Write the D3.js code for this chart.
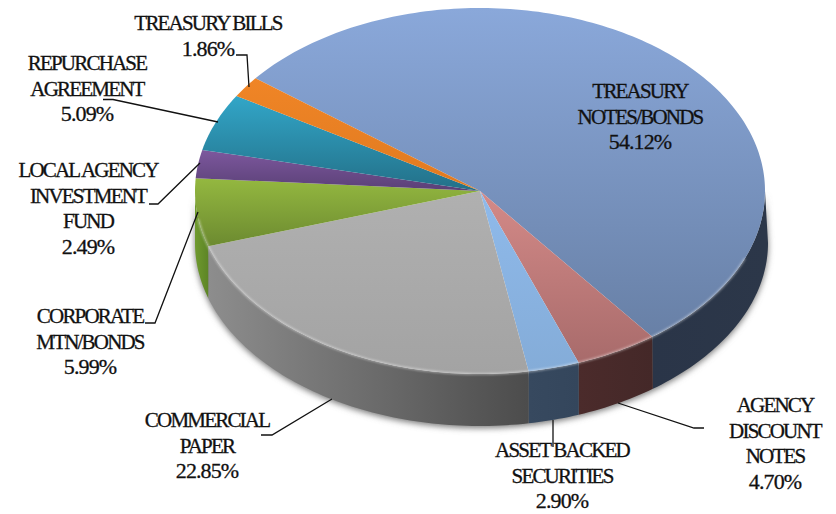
<!DOCTYPE html>
<html>
<head>
<meta charset="utf-8">
<script src="https://cdn.jsdelivr.net/npm/d3@7/dist/d3.min.js"></script>
<style>
html,body{margin:0;padding:0;background:#fff}
svg{display:block}
text{font-family:"Liberation Serif",serif;font-size:21px;letter-spacing:-1.8px;fill:#111;text-anchor:middle;stroke:#111;stroke-width:.3px}
tspan.share{font-size:22px;letter-spacing:-.9px}
</style>
</head>
<body>
<svg id="chart" width="836" height="514"></svg>
<script>
// Portfolio allocation, clockwise from the top-left seam
const categories = [
  "TREASURY NOTES/BONDS", "AGENCY DISCOUNT NOTES", "ASSET BACKED SECURITIES",
  "COMMERCIAL PAPER", "CORPORATE MTN/BONDS", "LOCAL AGENCY INVESTMENT FUND",
  "REPURCHASE AGREEMENT", "TREASURY BILLS"
];
const shares = [54.12, 4.70, 2.90, 22.85, 5.99, 2.49, 5.09, 1.86];
const labelLines = [
  ["TREASURY", "NOTES/BONDS"], ["AGENCY", "DISCOUNT", "NOTES"], ["ASSET BACKED", "SECURITIES"],
  ["COMMERCIAL", "PAPER"], ["CORPORATE", "MTN/BONDS"], ["LOCAL AGENCY", "INVESTMENT", "FUND"],
  ["REPURCHASE", "AGREEMENT"], ["TREASURY BILLS"]
];

// Colours per slice: top face light, top face dark, wall left, wall right
const faceLight = ["#8aa8da", "#d48a88", "#8fbaeb", "#b0b0b0", "#94b840", "#7d589e", "#32a6c8", "#f08526"];
const faceDark  = ["#6880a6", "#a86b6b", "#84acd8", "#a3a3a3", "#6c8a30", "#5a4076", "#237088", "#e07a20"];
const wallLeft  = ["#2a3548", "#4b2b2b", "#37495f", "#8d8d8d", "#6f9a2e", "#4a3560", "#1d5568", "#a05a18"];
const wallRight = ["#2c3749", "#442828", "#34465c", "#4c4c4c", "#5d8526", "#4a3560", "#1d5568", "#a05a18"];

// Label block centre, first baseline and leader polyline for each slice
const labelX = [640, 775, 562, 207, 90, 88, 87, 208];
const labelY = [98, 412, 457, 427, 323, 177, 70, 30];
const leaders = [
  null,
  [[618, 403], [694, 428], [704, 428]],
  [[553, 420], [553, 447]],
  [[332, 399], [272, 435], [261, 435]],
  [[198, 212], [155, 323], [145, 323]],
  [[200, 163], [158, 204], [149, 204]],
  [[218, 122], [113, 99.5], [103, 99.5]],
  [[249, 87], [247, 55], [236, 55]]
];

const cx = 480, cy = 191, rx = 285, ry = 183, depth = 52, bulge = 3, lineGap = 25.7;
const startDeg = -52;
const TAU = Math.PI * 2;

const svg = d3.select("#chart");
const defs = svg.append("defs");

const xPos = d3.scaleLinear().domain([-1, 1]).range([cx - rx, cx + rx]);
const yPos = d3.scaleLinear().domain([1, -1]).range([cy - ry, cy + ry]);
// A point on the rim; the lower rim swells slightly on the far right
const project = (a, lower = false) => {
  const s = Math.sin(a);
  return [
    xPos(s) + (lower ? bulge * Math.pow(Math.max(0, s), 3) : 0),
    yPos(Math.cos(a)) + (lower ? depth : 0)
  ];
};

const pie = d3.pie().sort(null)
  .startAngle(startDeg * Math.PI / 180)
  .endAngle(startDeg * Math.PI / 180 + TAU);
const arcs = pie(shares);

const sweep = (a0, a1, lower = false) => {
  const n = Math.max(2, Math.ceil((a1 - a0) / 0.02));
  return d3.range(n + 1).map(i => project(a0 + (a1 - a0) * i / n, lower));
};
const poly = d3.line();

// Soft shadow and glow filters
const blur = defs.append("filter").attr("id", "soft")
  .attr("x", "-10%").attr("y", "-10%").attr("width", "120%").attr("height", "120%");
blur.append("feGaussianBlur").attr("stdDeviation", 3);
const thin = defs.append("filter").attr("id", "rim")
  .attr("x", "-10%").attr("y", "-10%").attr("width", "120%").attr("height", "120%");
thin.append("feGaussianBlur").attr("stdDeviation", 0.8);

arcs.forEach((d, i) => {
  const face = defs.append("linearGradient").attr("id", `face${i}`)
    .attr("x1", 0).attr("y1", 0).attr("x2", 0).attr("y2", 1);
  face.append("stop").attr("offset", 0).attr("stop-color", faceLight[i]);
  face.append("stop").attr("offset", 1).attr("stop-color", faceDark[i]);
  const wall = defs.append("linearGradient").attr("id", `wall${i}`)
    .attr("x1", 0).attr("y1", 0).attr("x2", 1).attr("y2", 0);
  wall.append("stop").attr("offset", 0).attr("stop-color", wallLeft[i]);
  wall.append("stop").attr("offset", 1).attr("stop-color", wallRight[i]);
});

// Shadow under the front wall
const frontFrom = Math.PI / 2, frontTo = Math.PI * 1.5;
const wallOutline = [...sweep(frontFrom, frontTo), ...sweep(frontFrom, frontTo, true).reverse()];
svg.append("path").attr("d", poly(wallOutline) + "Z")
  .attr("transform", "translate(0,2)")
  .attr("fill", "#777").attr("filter", "url(#soft)");

// Front walls, clipped to the visible half of the rim
svg.append("g").selectAll("path").data(arcs).join("path")
  .attr("d", d => {
    const spans = [];
    [0, TAU].forEach(shift => {
      const a0 = Math.max(d.startAngle + shift, frontFrom);
      const a1 = Math.min(d.endAngle + shift, frontTo);
      if (a1 > a0) spans.push([a0, a1]);
    });
    return spans.map(([a0, a1]) => poly([...sweep(a0, a1), ...sweep(a0, a1, true).reverse()]) + "Z").join("");
  })
  .attr("fill", (d, i) => `url(#wall${i})`);

// Top faces
svg.append("g").selectAll("path").data(arcs).join("path")
  .attr("d", d => poly([[cx, cy], ...sweep(d.startAngle, d.endAngle)]) + "Z")
  .attr("fill", (d, i) => `url(#face${i})`);

// Pale rim where the top face meets the wall
svg.append("path")
  .attr("d", poly(sweep(Math.PI * 0.62, Math.PI * 1.45)))
  .attr("fill", "none").attr("stroke", "#fff").attr("stroke-opacity", 0.5)
  .attr("stroke-width", 1.6).attr("filter", "url(#rim)");

// Leader lines
svg.append("g").selectAll("path").data(leaders.filter(Boolean)).join("path")
  .attr("d", poly).attr("fill", "none").attr("stroke", "#111").attr("stroke-width", 1.3);

// Labels, each ending with its share
const fmt = d3.format(".2f");
const labels = svg.append("g").selectAll("text").data(categories).join("text")
  .attr("transform", (d, i) => `translate(${labelX[i]},${labelY[i]})`);
labels.selectAll("tspan")
  .data((d, i) => [...labelLines[i], fmt(shares[i]) + "%"])
  .join("tspan")
  .attr("class", d => d.endsWith("%") ? "share" : null)
  .attr("x", 0)
  .attr("y", (d, j) => j * lineGap)
  .text(d => d);
</script>
</body>
</html>
